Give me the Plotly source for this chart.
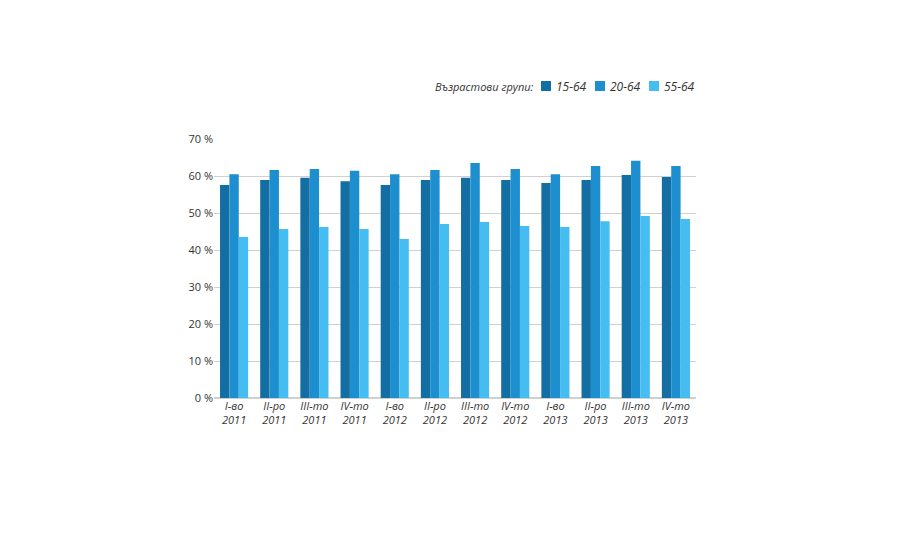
import plotly.graph_objects as go

categories = ["I-во<br>2011","II-ро<br>2011","III-то<br>2011","IV-то<br>2011",
              "I-во<br>2012","II-ро<br>2012","III-то<br>2012","IV-то<br>2012",
              "I-во<br>2013","II-ро<br>2013","III-то<br>2013","IV-то<br>2013"]
s1564 = [57.6,58.9,59.5,58.6,57.6,58.9,59.5,58.9,58.1,58.9,60.3,59.7]
s2064 = [60.5,61.6,61.9,61.4,60.5,61.6,63.5,61.9,60.5,62.7,64.1,62.7]
s5564 = [43.5,45.7,46.2,45.7,43.0,47.0,47.6,46.5,46.2,47.8,49.2,48.4]
names = ["15-64","20-64","55-64"]
colors = ["#136ea3","#1d8fcf","#45bdf0"]

fig = go.Figure()
for n, v, c in zip(names, [s1564, s2064, s5564], colors):
    fig.add_bar(x=categories, y=v, name=n, marker_color=c, marker_line_width=0)

L, R, T, B = 206, 212, 131, 156
PW, PH = 900 - L - R, 546 - T - B
def px(x): return (x - L) / PW
def py(y): return (398 - y) / PH

shapes, anns = [], []
ann_font = dict(family="Open Sans, DejaVu Sans", size=12, color="#333")
anns.append(dict(text="<i>Възрастови групи:</i>", xref="paper", yref="paper",
                 x=px(528), y=py(86), xanchor="right", yanchor="middle", showarrow=False,
                 font=dict(family="Open Sans, DejaVu Sans", size=11, color="#333")))
for i, (n, c) in enumerate(zip(names, colors)):
    sx = 533 + i * 54
    shapes.append(dict(type="rect", xref="paper", yref="paper", x0=px(sx), x1=px(sx + 10),
                       y0=py(91), y1=py(81), fillcolor=c, line_width=0))
    anns.append(dict(text=f"<i>{n}</i>", xref="paper", yref="paper", x=px(sx + 13), y=py(86),
                     xanchor="left", yanchor="middle", showarrow=False, font=ann_font))

fig.update_layout(
    width=900, height=546, plot_bgcolor="white", paper_bgcolor="white",
    margin=dict(l=L, r=R, t=T, b=B),
    barmode="group", bargap=0.3, bargroupgap=0, showlegend=False,
    font=dict(family="Open Sans, DejaVu Sans", size=11, color="#333"),
    xaxis=dict(tickfont=dict(size=11), ticks="", showline=False,
               tickprefix="<i>", ticksuffix="</i>"),
    yaxis=dict(range=[0,70], dtick=10, ticksuffix=" %", gridcolor="#d0d0d0",
               zeroline=True, zerolinecolor="#d0d0d0", tickfont=dict(size=11)),
    shapes=shapes, annotations=anns,
)
fig.write_html("out.html")
